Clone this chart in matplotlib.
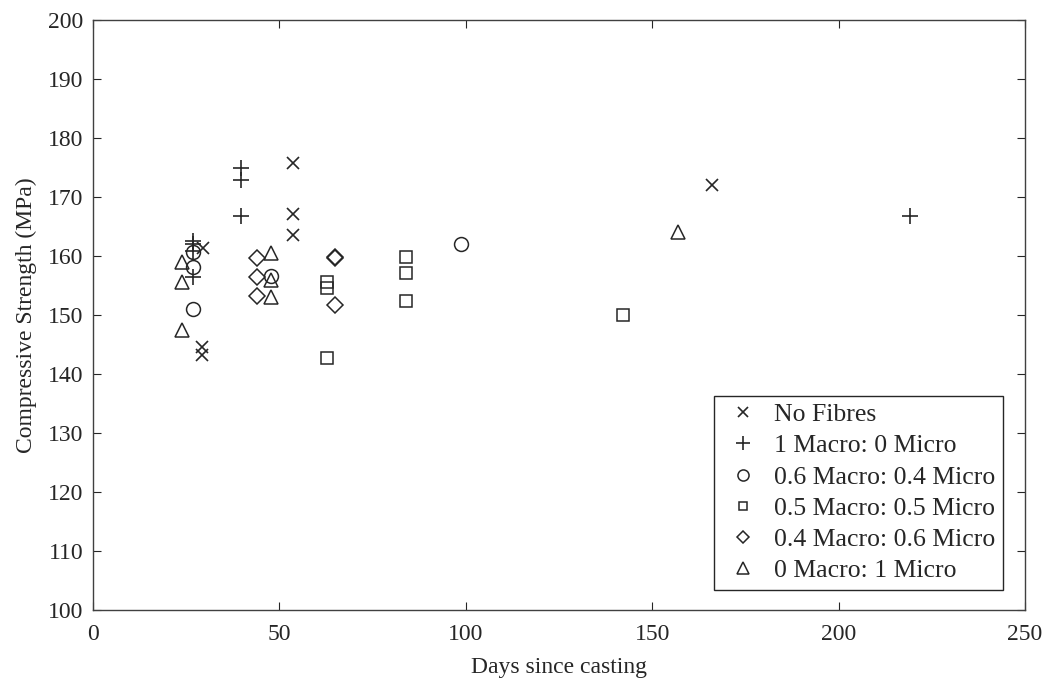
import matplotlib
matplotlib.use("Agg")
import matplotlib.pyplot as plt

plt.rcParams['font.family'] = ['Liberation Serif', 'DejaVu Serif']

# days since casting / compressive strength (MPa) per fibre mix
no_fibres_x = [53.7, 53.7, 53.7, 29.4, 29.2, 29.2, 166.0]
no_fibres_y = [175.7, 167.2, 163.6, 161.3, 144.6, 143.2, 172.0]

macro1_x = [39.7, 39.7, 39.7, 26.9, 26.9, 26.9, 26.9, 219.1]
macro1_y = [174.9, 172.9, 166.8, 162.5, 162.0, 160.8, 156.4, 166.8]

m06_x = [26.9, 26.9, 26.9, 47.7, 98.7]
m06_y = [160.6, 158.2, 151.0, 156.6, 162.0]

m05_x = [62.7, 62.7, 62.7, 84.0, 84.0, 84.0, 142.1]
m05_y = [155.6, 154.6, 142.7, 159.9, 157.1, 152.4, 150.0]

m04_x = [43.9, 43.9, 43.9, 64.9, 64.9, 64.9]
m04_y = [159.6, 156.4, 153.2, 159.9, 159.6, 151.7]

micro1_x = [23.8, 23.8, 23.8, 47.7, 47.7, 47.7, 156.8]
micro1_y = [159.0, 155.6, 147.5, 160.5, 155.9, 153.1, 164.1]

labels = ['No Fibres', '1 Macro: 0 Micro', '0.6 Macro: 0.4 Micro',
          '0.5 Macro: 0.5 Micro', '0.4 Macro: 0.6 Micro', '0 Macro: 1 Micro']

fig = plt.figure(figsize=(10.51, 6.87), dpi=100)
ax = fig.add_axes([0.0885, 0.112, 0.8868, 0.8589])

ink = '#262626'
ax.plot(no_fibres_x, no_fibres_y, 'x', color=ink, ms=9, mew=1.2, label=labels[0])
ax.plot(macro1_x, macro1_y, '+', color=ink, ms=12, mew=1.2, label=labels[1])
ax.plot(m06_x, m06_y, 'o', color=ink, mfc='none', ms=10, mew=1.1, label=labels[2])
ax.plot(m05_x, m05_y, 's', color=ink, mfc='none', ms=8, mew=1.1, label=labels[3])
ax.plot(m04_x, m04_y, 'D', color=ink, mfc='none', ms=8, mew=1.1, label=labels[4])
ax.plot(micro1_x, micro1_y, '^', color=ink, mfc='none', ms=10.5, mew=1.1, label=labels[5])

ax.set_xlim(0, 250)
ax.set_ylim(100, 200)
ax.set_xticks(range(0, 251, 50))
ax.set_yticks(range(100, 201, 10))
ax.tick_params(direction='in', top=True, right=True, length=6, width=0.8,
               colors=ink, labelsize=17)
ax.tick_params(axis='x', pad=10)
ax.tick_params(axis='y', pad=7)
for s in ax.spines.values():
    s.set_color('#404040')
    s.set_linewidth(1.0)

ax.set_xlabel('Days since casting', fontsize=17, color=ink, labelpad=9)
ax.set_ylabel('Compressive Strength (MPa)', fontsize=17, color=ink, labelpad=8)

leg = ax.legend(loc='lower right', fontsize=18.5, frameon=True, fancybox=False,
                edgecolor=ink, framealpha=1, borderpad=0.3, labelspacing=0.32,
                handlelength=1.7, handletextpad=0.35, markerscale=0.8,
                borderaxespad=0, bbox_to_anchor=(0.9764, 0.034))
leg.get_frame().set_linewidth(1.0)
for t in leg.get_texts():
    t.set_color(ink)

fig.savefig('out.png', dpi=100)
